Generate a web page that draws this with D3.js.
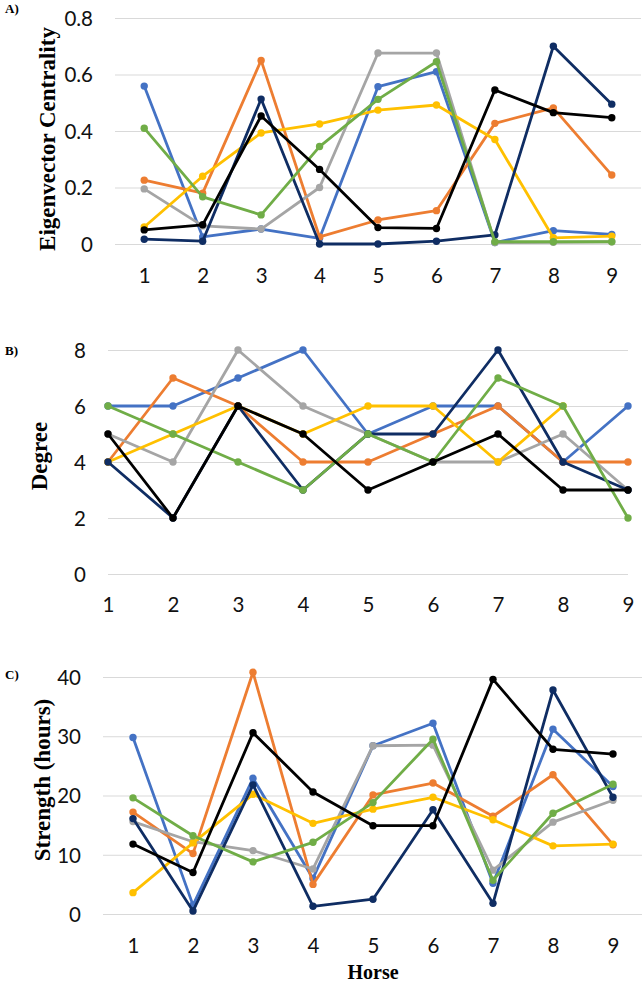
<!DOCTYPE html>
<html>
<head>
<meta charset="utf-8">
<script src="https://cdn.jsdelivr.net/npm/d3@7"></script>
<style>
html,body{margin:0;padding:0;background:#fff;}
svg{display:block;}
</style>
</head>
<body>
<svg id="chart" width="644" height="985"></svg>
<script>
const horses = [1,2,3,4,5,6,7,8,9];
const seriesNames = ["S1","S2","S3","S4","S5","S6","S7"];
const seriesColors = ["#4472C4","#ED7D31","#A5A5A5","#FFC000","#0F2D63","#70AD47","#000000"];

// Panel A: Eigenvector Centrality
const eigBlue   = [0.559,0.025,0.053,0.020,0.557,0.610,0.005,0.047,0.034];
const eigOrange = [0.226,0.180,0.650,0.025,0.085,0.118,0.427,0.482,0.244];
const eigGray   = [0.195,0.064,0.053,0.200,0.676,0.676,0.005,0.006,0.008];
const eigYellow = [0.060,0.240,0.393,0.425,0.474,0.492,0.370,0.022,0.028];
const eigNavy   = [0.017,0.010,0.513,0.000,0.000,0.010,0.032,0.700,0.495];
const eigGreen  = [0.410,0.167,0.103,0.345,0.512,0.645,0.008,0.008,0.008];
const eigBlack  = [0.050,0.068,0.453,0.264,0.058,0.055,0.545,0.465,0.447];
const eigTicks  = [0,0.2,0.4,0.6,0.8];

// Panel B: Degree
const degBlue   = [6,6,7,8,5,6,6,4,6];
const degOrange = [4,7,6,4,4,5,6,4,4];
const degGray   = [5,4,8,6,5,4,4,5,3];
const degYellow = [4,5,6,5,6,6,4,6,null];
const degNavy   = [4,2,6,3,5,5,8,4,3];
const degGreen  = [6,5,4,3,5,4,7,6,2];
const degBlack  = [5,2,6,5,3,4,5,3,3];
const degTicks  = [0,2,4,6,8];

// Panel C: Strength (hours)
const strBlue   = [29.8,1.5,22.9,6.0,28.4,32.2,5.2,31.2,21.5];
const strOrange = [17.2,10.2,40.8,5.0,20.1,22.1,16.5,23.5,11.7];
const strGray   = [15.6,12.2,10.7,7.6,28.4,28.5,7.4,15.5,19.2];
const strYellow = [3.6,12.0,20.2,15.3,17.7,19.7,15.9,11.5,11.8];
const strNavy   = [16.1,0.5,21.8,1.3,2.5,17.6,1.8,37.8,19.7];
const strGreen  = [19.6,13.2,8.8,12.1,18.8,29.5,5.7,17.0,21.9];
const strBlack  = [11.8,7.0,30.6,20.6,14.9,14.9,39.6,27.8,27.0];
const strTicks  = [0,10,20,30,40];

const svg = d3.select("#chart");

function panel(cfg){
  const g = svg.append("g");
  const x = d3.scalePoint().domain(horses).range([cfg.x0, cfg.x1]).padding(cfg.pad);
  const y = d3.scaleLinear().domain(cfg.yDomain).range([cfg.yBottom, cfg.yTop]);

  // gridlines
  g.append("g")
    .attr("transform", `translate(${cfg.x0},0)`)
    .call(d3.axisLeft(y).tickValues(cfg.ticks).tickSize(-(cfg.gx1 - cfg.x0)).tickFormat(""))
    .call(s => s.select(".domain").remove())
    .call(s => s.selectAll("line").attr("stroke","#D9D9D9").attr("stroke-width",1));

  // y tick labels
  g.append("g")
    .attr("transform", `translate(${cfg.yLabelRight},0)`)
    .call(d3.axisLeft(y).tickValues(cfg.ticks).tickSize(0).tickPadding(0).tickFormat(cfg.fmt))
    .call(s => s.select(".domain").remove())
    .call(s => s.selectAll("text")
      .attr("font-family","Lato, 'Open Sans', sans-serif")
      .attr("font-size",20.5).attr("fill","#111").attr("dy","0.36em"));

  // x tick labels
  g.append("g")
    .attr("transform", `translate(0,${cfg.xLabelBase})`)
    .call(d3.axisBottom(x).tickSize(0).tickPadding(0))
    .call(s => s.select(".domain").remove())
    .call(s => s.selectAll("text")
      .attr("font-family","Lato, 'Open Sans', sans-serif")
      .attr("font-size",20.5).attr("fill","#111").attr("dy","0"));

  // series
  cfg.data.forEach((vals, i) => {
    const pts = horses.map((h, j) => ({h, v: vals[j]}));
    const line = d3.line().defined(d => d.v !== null).x(d => x(d.h)).y(d => y(d.v));
    g.append("path").datum(pts)
      .attr("fill","none").attr("stroke", seriesColors[i])
      .attr("stroke-width", 2.8).attr("stroke-linejoin","round")
      .attr("d", line);
    g.selectAll(null).data(pts.filter(d => d.v !== null)).enter().append("circle")
      .attr("cx", d => x(d.h)).attr("cy", d => y(d.v)).attr("r", 3.7)
      .attr("fill", seriesColors[i]);
  });

  // y-axis title
  g.append("text")
    .attr("transform", `translate(${cfg.titleX},${cfg.titleY}) rotate(-90)`)
    .attr("text-anchor","middle")
    .attr("font-family","'Liberation Serif', 'Times New Roman', serif")
    .attr("font-weight","bold").attr("font-size",23).attr("fill","#000")
    .text(cfg.title);

  // panel letter
  g.append("text")
    .attr("x", 5).attr("y", cfg.letterY)
    .attr("font-family","'Liberation Serif', 'Times New Roman', serif")
    .attr("font-weight","bold").attr("font-size",13).attr("fill","#000")
    .text(cfg.letter);
  return {g, x, y};
}

panel({
  x0:115, x1:641, gx1:641, pad:0.5,
  yDomain:[0,0.8], yBottom:244, yTop:18, ticks:eigTicks,
  fmt: d => d === 0 ? "0" : d3.format(".1f")(d),
  yLabelRight:93, xLabelBase:283,
  data:[eigBlue,eigOrange,eigGray,eigYellow,eigNavy,eigGreen,eigBlack],
  title:"Eigenvector Centrality", titleX:55, titleY:139,
  letter:"A)", letterY:13
});

panel({
  x0:108, x1:628, gx1:628, pad:0,
  yDomain:[0,8], yBottom:574, yTop:350, ticks:degTicks,
  fmt: d3.format("d"),
  yLabelRight:86, xLabelBase:612,
  data:[degBlue,degOrange,degGray,degYellow,degNavy,degGreen,degBlack],
  title:"Degree", titleX:47, titleY:456,
  letter:"B)", letterY:355
});

panel({
  x0:103, x1:643, gx1:642, pad:0.5,
  yDomain:[0,40], yBottom:914, yTop:677, ticks:strTicks,
  fmt: d3.format("d"),
  yLabelRight:81, xLabelBase:953,
  data:[strBlue,strOrange,strGray,strYellow,strNavy,strGreen,strBlack],
  title:"Strength (hours)", titleX:50, titleY:780,
  letter:"C)", letterY:679
});

svg.append("text")
  .attr("x", 373).attr("y", 979)
  .attr("text-anchor","middle")
  .attr("font-family","'Liberation Serif', 'Times New Roman', serif")
  .attr("font-weight","bold").attr("font-size",20).attr("fill","#000")
  .text("Horse");
</script>
</body>
</html>
